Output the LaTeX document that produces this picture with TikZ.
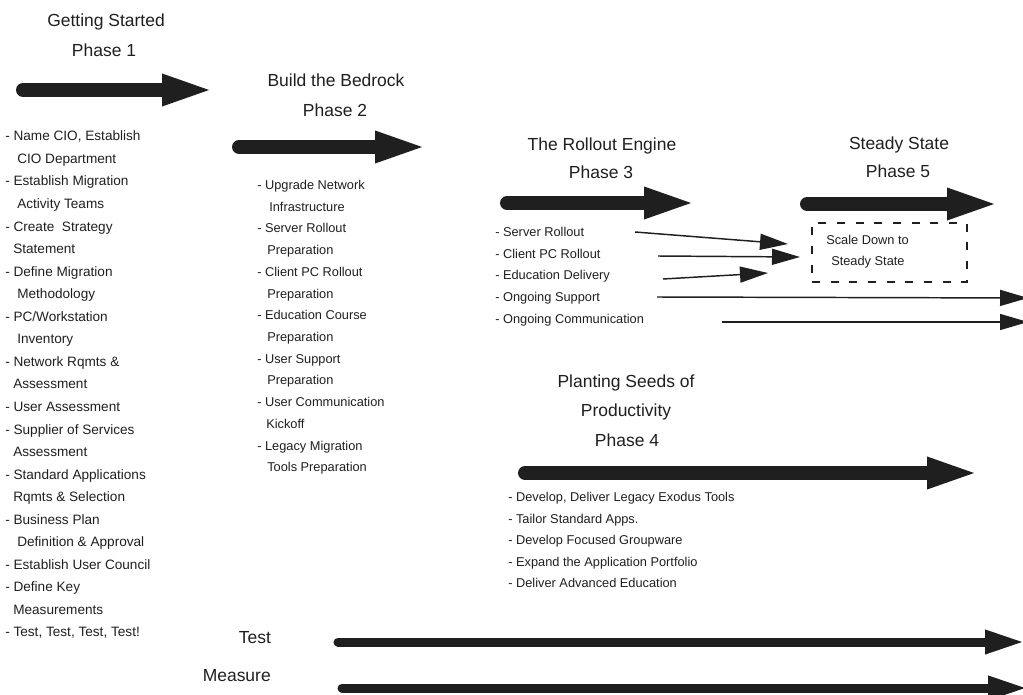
\documentclass[tikz,border=0pt]{standalone}
\usepackage{fontspec}
\setmainfont{Liberation Sans}
\usetikzlibrary{arrows.meta}
\definecolor{ink}{gray}{0.12}
\begin{document}
\begin{tikzpicture}[x=0.75pt,y=-0.75pt,
  bigarrow/.style={draw=ink, line width=10.5pt, line cap=round, -{Triangle[length=39.75pt,width=21pt]}},
  medarrow/.style={draw=ink, line width=6.75pt, line cap=round, -{Triangle[length=30pt,width=16.5pt]}},
  thinarrow/.style={draw=ink, line width=1.1pt, -{Triangle[length=21pt,width=12pt]}},
  title/.style={font=\fontsize{13.1}{15}\selectfont, text height=9.4pt, text depth=0pt, inner sep=0pt, text=ink},
  itemA/.style={font=\fontsize{10.2}{12}\selectfont, text height=7.3pt, text depth=0pt, inner sep=0pt, anchor=west, text=ink},
  itemB/.style={font=\fontsize{9.6}{12}\selectfont, text height=6.9pt, text depth=0pt, inner sep=0pt, anchor=west, text=ink},
  dashbox/.style={draw=ink, line width=1pt, dash pattern=on 6pt off 8pt, minimum width=116.25pt, minimum height=44.25pt, inner sep=0pt}
]
\useasboundingbox (0,0) rectangle (1023,695);

% ---------- Phase 1 ----------
\node[title] (t1a) at (106,20) {Getting Started};
\node[title] (t1b) at (104,50) {Phase 1};
\coordinate (a1s) at (23,90); \coordinate (a1e) at (215,90);
\draw[bigarrow] (a1s) -- (a1e);
\foreach \t/\x [count=\i] in {
  {- Name CIO, Establish}/5, {CIO Department}/17,
  {- Establish Migration}/5, {Activity Teams}/17,
  {- Create~ Strategy}/5, {Statement}/13,
  {- Define Migration}/5, {Methodology}/17,
  {- PC/Workstation}/5, {Inventory}/17,
  {- Network Rqmts \&}/5, {Assessment}/13,
  {- User Assessment}/5,
  {- Supplier of Services}/5, {Assessment}/13,
  {- Standard Applications}/5, {Rqmts \& Selection}/13,
  {- Business Plan}/5, {Definition \& Approval}/17,
  {- Establish User Council}/5,
  {- Define Key}/5, {Measurements}/13,
  {- Test, Test, Test, Test!}/5}
  \node[itemA] (p1l\i) at (\x,{136+(\i-1)*22.55}) {\t};

% ---------- Phase 2 ----------
\node[title] (t2a) at (336,80) {Build the Bedrock};
\node[title] (t2b) at (335,110) {Phase 2};
\coordinate (a2s) at (239,147); \coordinate (a2e) at (428,147);
\draw[bigarrow] (a2s) -- (a2e);
\foreach \t/\x [count=\i] in {
  {- Upgrade Network}/257, {Infrastructure}/269,
  {- Server Rollout}/257, {Preparation}/267,
  {- Client PC Rollout}/257, {Preparation}/267,
  {- Education Course}/257, {Preparation}/267,
  {- User Support}/257, {Preparation}/267,
  {- User Communication}/257, {Kickoff}/266,
  {- Legacy Migration}/257, {Tools Preparation}/267}
  \node[itemB] (p2l\i) at (\x,{185+(\i-1)*21.7}) {\t};

% ---------- Phase 3 ----------
\node[title] (t3a) at (602,144) {The Rollout Engine};
\node[title] (t3b) at (601,172) {Phase 3};
\coordinate (a3s) at (507,203); \coordinate (a3e) at (697,203);
\draw[bigarrow] (a3s) -- (a3e);
\foreach \t [count=\i] in {
  {- Server Rollout}, {- Client PC Rollout}, {- Education Delivery},
  {- Ongoing Support}, {- Ongoing Communication}}
  \node[itemB] (p3l\i) at (495,{232+(\i-1)*21.6}) {\t};

% ---------- Phase 5 ----------
\node[title] (t5a) at (899,143) {Steady State};
\node[title] (t5b) at (898,171) {Phase 5};
\coordinate (a5s) at (807,204); \coordinate (a5e) at (1000,204);
\draw[bigarrow] (a5s) -- (a5e);
\node[dashbox] (sbox) at (889.5,252.5) {};
\node[itemB] (sd1) at (826,240) {Scale Down to};
\node[itemB] (sd2) at (831,261) {Steady State};

% thin arrows from phase 3 items
\coordinate (srS) at (635,232); \coordinate (srE) at (788,244);
\coordinate (cpS) at (658,256); \coordinate (cpE) at (800,257);
\coordinate (edS) at (663,279); \coordinate (edE) at (768,273);
\coordinate (osS) at (657,297); \coordinate (osE) at (1028,298);
\coordinate (ocS) at (722,322); \coordinate (ocE) at (1028,322);
\draw[thinarrow] (srS) -- (srE);
\draw[thinarrow] (cpS) -- (cpE);
\draw[thinarrow] (edS) -- (edE);
\draw[thinarrow] (osS) -- (osE);
\draw[thinarrow] (ocS) -- (ocE);

% ---------- Phase 4 ----------
\node[title] (t4a) at (626,381) {Planting Seeds of};
\node[title] (t4b) at (626,410) {Productivity};
\node[title] (t4c) at (627,440) {Phase 4};
\coordinate (a4s) at (525,473); \coordinate (a4e) at (980,473);
\draw[bigarrow] (a4s) -- (a4e);
\foreach \t [count=\i] in {
  {- Develop, Deliver Legacy Exodus Tools}, {- Tailor Standard Apps.},
  {- Develop Focused Groupware}, {- Expand the Application Portfolio},
  {- Deliver Advanced Education}}
  \node[itemB] (p4l\i) at (508,{497+(\i-1)*21.5}) {\t};

% ---------- Test / Measure ----------
\node[title] (test) at (255,637) {Test};
\node[title, anchor=east] (meas) at (271,675) {Measure};
\coordinate (tS) at (338,642); \coordinate (tE) at (1025,642);
\coordinate (mS) at (342,688); \coordinate (mE) at (1028,688);
\draw[medarrow] (tS) -- (tE);
\draw[medarrow] (mS) -- (mE);
\end{tikzpicture}
\end{document}
